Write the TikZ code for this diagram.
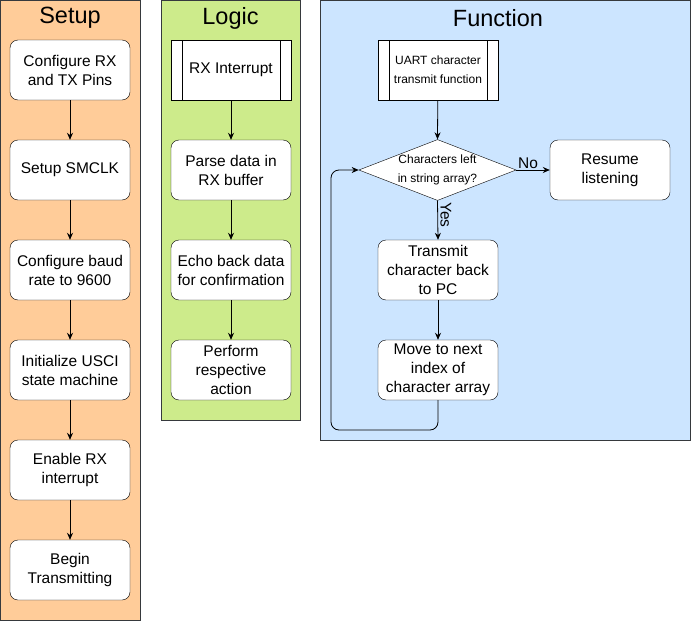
\documentclass[tikz,border=0pt]{standalone}
\usepackage{fontspec}
\setmainfont{Liberation Sans}
\usetikzlibrary{shapes.geometric,arrows.meta,calc}
\definecolor{setupfill}{HTML}{FFCC99}
\definecolor{logicfill}{HTML}{CDEB8B}
\definecolor{funcfill}{HTML}{CCE5FF}
\definecolor{panelline}{HTML}{36393D}
\begin{document}
\begin{tikzpicture}[x=1pt,y=-1pt,
  panel/.style={draw=panelline,line width=1pt},
  ptitle/.style={font=\fontsize{23.5}{26}\selectfont},
  box/.style={draw=black,fill=white,rounded corners=8pt,minimum width=120pt,minimum height=60pt,
    align=center,inner sep=1pt,font=\fontsize{15.5}{19}\selectfont},
  proc/.style={draw=black,fill=white,minimum width=120pt,minimum height=60pt,align=center,inner sep=1pt,
    path picture={\draw ([xshift=11pt]path picture bounding box.north west) -- ([xshift=11pt]path picture bounding box.south west);
                  \draw ([xshift=-11pt]path picture bounding box.north east) -- ([xshift=-11pt]path picture bounding box.south east);}},
  dec/.style={draw=black,fill=white,diamond,aspect=2.58,minimum width=155pt,minimum height=60pt,inner sep=0pt,
    align=center,font=\fontsize{12}{19}\selectfont},
  arr/.style={draw=black,line width=0.8pt,-{Stealth[length=7pt,width=6pt]}},
  lbl/.style={font=\fontsize{15.5}{17}\selectfont,inner sep=1pt}]
\useasboundingbox (0,0) rectangle (691,621);
% panels
\draw[panel,fill=setupfill] (0.5,0.5) rectangle (140,620.5);
\draw[panel,fill=logicfill] (161,0.5) rectangle (300,420);
\draw[panel,fill=funcfill] (320,0.5) rectangle (690.5,440);
\node[ptitle] (tsetup) at (70,18) {Setup};
\node[ptitle] (tlogic) at (230.5,18) {Logic};
\node[ptitle] (tfunc) at (498,18) {Function};
% setup column
\node[box] (s1) at (70,70) {Configure RX\\and TX Pins};
\node[box] (s2) at (70,170) {Setup SMCLK};
\node[box] (s3) at (70,270) {Configure baud\\rate to 9600};
\node[box] (s4) at (70,370) {Initialize USCI\\state machine};
\node[box] (s5) at (70,470) {Enable RX\\interrupt};
\node[box] (s6) at (70,570) {Begin\\Transmitting};
\foreach \a/\b in {s1/s2,s2/s3,s3/s4,s4/s5,s5/s6} \draw[arr] (\a) -- (\b);
% logic column
\node[proc,font=\fontsize{15.5}{19}\selectfont] (l1) at (231,70) {RX Interrupt};
\node[box] (l2) at (231,170) {Parse data in\\RX buffer};
\node[box] (l3) at (231,270) {Echo back data\\for confirmation};
\node[box] (l4) at (231,370) {Perform\\respective\\action};
\foreach \a/\b in {l1/l2,l2/l3,l3/l4} \draw[arr] (\a) -- (\b);
% function column
\node[proc,font=\fontsize{12}{19}\selectfont] (f1) at (438,70) {UART character\\transmit function};
\node[dec] (d) at (437.5,170) {Characters left\\in string array?};
\node[box] (r) at (610,170) {Resume\\listening};
\node[box] (f2) at (438,270) {Transmit\\character back\\to PC};
\node[box] (f3) at (438,370) {Move to next\\index of\\character array};
\coordinate (lb) at (331,430);
\draw[arr] (f1) -- (d.north);
\draw[arr] (d.east) -- node[lbl,above,pos=0.35] (no) {No} (r.west);
\draw[arr] (d.south) -- (f2.north);
\node[lbl,rotate=-90] (yes) at (446,215) {Yes};
\draw[arr] (f2) -- (f3);
\draw[arr,rounded corners=8pt] (f3.south) |- (lb) |- (d.west);
\end{tikzpicture}
\end{document}
